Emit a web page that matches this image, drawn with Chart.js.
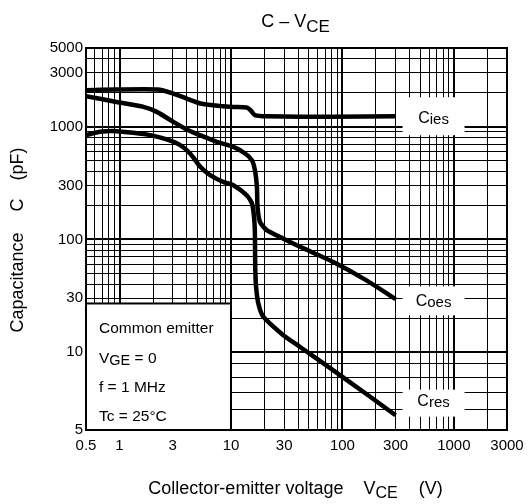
<!DOCTYPE html>
<html lang="en">
<head>
  <meta charset="UTF-8">
  <title>C - VCE</title>
  <script src="https://cdn.jsdelivr.net/npm/chart.js"></script>
  <style>
    html, body {
      margin: 0;
      padding: 0;
      background: #fff;
    }
    #wrap { width: 531px; height: 504px; }
  </style>
</head>
<body>
  <div id="wrap"><canvas id="capChart" width="531" height="504"></canvas></div>

  <script>
    // Curves: V_CE in volts, capacitance in pF
    const ciesV = [0.5, 0.94, 2.2, 3.0, 4.0, 5.3, 6.9, 10.5, 13.8, 15.0, 16.4, 21, 83, 300];
    const ciesC = [2110, 2140, 2140, 1980, 1780, 1610, 1555, 1500, 1480, 1400, 1270, 1240, 1225, 1240];

    const coesV = [0.5, 0.94, 1.64, 2.16, 3.04, 4.0, 5.27, 7.45, 10.5, 13.4, 15.4, 16.4, 17.1, 17.3, 18.2, 20.9, 29.3, 41.7, 82.8, 163, 300];
    const coesC = [1870, 1660, 1500, 1355, 1105, 946, 842, 735, 663, 579, 505, 412, 293, 195, 143, 121, 102, 86, 63, 43.5, 29.5];

    const cresV = [0.5, 0.67, 0.94, 1.33, 1.88, 2.65, 3.5, 4.3, 5.3, 6.5, 8.5, 10.5, 13.8, 15.4, 16.1, 16.4, 16.5, 16.8, 17.6, 19.5, 29.3, 41.7, 83, 163, 300];
    const cresC = [842, 901, 914, 883, 842, 771, 687, 579, 441, 372, 324, 303, 247, 209, 159, 113, 57, 38, 27, 20.6, 14.2, 11.1, 8.5, 6.9, 5.7];

    const xTickLabels = [0.5, 1, 3, 10, 30, 100, 300, 1000, 3000];
    const yTickLabels = [5, 10, 30, 100, 300, 1000, 3000, 5000];

    const FONT = '"Liberation Sans", Arial, Helvetica, sans-serif';

    // the sheet's y axis is log, but the 5..10 decade is drawn stretched
    const Y_BREAK = 10, Y_BREAK_FRAC = 0.204;

    class StretchLogScale extends Chart.LogarithmicScale {
      fraction(v) {
        const lo = Math.log10(this.min), hi = Math.log10(this.max), b = Math.log10(Y_BREAK);
        const l = Math.log10(v);
        if (l <= b) return Y_BREAK_FRAC * (l - lo) / (b - lo);
        return Y_BREAK_FRAC + (1 - Y_BREAK_FRAC) * (l - b) / (hi - b);
      }
      getPixelForValue(v) {
        if (v === undefined || v === null || v <= 0) v = this.min;
        return this.getPixelForDecimal(this.fraction(v));
      }
      getValueForPixel(p) {
        const d = this.getDecimalForPixel(p);
        const lo = Math.log10(this.min), hi = Math.log10(this.max), b = Math.log10(Y_BREAK);
        const l = d <= Y_BREAK_FRAC
          ? lo + d / Y_BREAK_FRAC * (b - lo)
          : b + (d - Y_BREAK_FRAC) / (1 - Y_BREAK_FRAC) * (hi - b);
        return Math.pow(10, l);
      }
    }
    StretchLogScale.id = 'stretchLog';
    StretchLogScale.defaults = Chart.LogarithmicScale.defaults;
    Chart.register(StretchLogScale);

    // 1..9 x 10^n grid lines between lo and hi
    function gridValues(lo, hi) {
      const out = [];
      for (let e = -1; e <= 4; e++) {
        for (let m = 1; m <= 9; m++) {
          const v = +(m * Math.pow(10, e)).toPrecision(3);
          if (v >= lo && v <= hi) out.push(v);
        }
      }
      return out;
    }
    const isDecade = v => Math.abs(Math.log10(v) - Math.round(Math.log10(v))) < 1e-6;

    function series(xs, ys) {
      return {
        data: xs.map((v, i) => ({ x: v, y: ys[i] })),
        borderColor: '#000',
        borderWidth: 4.5,
        pointRadius: 0,
        fill: false,
        tension: 0.2
      };
    }

    // draw text pieces one after the other: [text, size, dy] or a number = gap
    function drawRuns(ctx, runs, x, y, align) {
      let total = 0;
      runs.forEach(r => {
        if (typeof r === 'number') { total += r; return; }
        ctx.font = r[1] + 'px ' + FONT;
        total += ctx.measureText(r[0]).width;
      });
      let cx = align === 'center' ? x - total / 2 : x;
      runs.forEach(r => {
        if (typeof r === 'number') { cx += r; return; }
        ctx.font = r[1] + 'px ' + FONT;
        ctx.fillText(r[0], cx, y + (r[2] || 0));
        cx += ctx.measureText(r[0]).width;
      });
    }

    const curveTags = [
      { sub: 'ies', at: 1240, h: 38, base: 7 },
      { sub: 'oes', at: 28.5, h: 29, base: 5 },
      { sub: 'res', at: 6.35, h: 27, base: 3 }
    ];

    const sheetPlugin = {
      id: 'sheet',
      beforeDatasetsDraw(chart) {
        const { ctx, chartArea: a, scales: { x, y } } = chart;
        ctx.save();
        ctx.fillStyle = '#fff';
        ctx.strokeStyle = '#000';
        ctx.lineWidth = 2;
        ctx.strokeRect(a.left, a.top, a.right - a.left, a.bottom - a.top);

        // measurement conditions box
        const bx = x.getPixelForValue(10), by = y.getPixelForValue(27);
        ctx.fillRect(a.left, by, bx - a.left, a.bottom - by);
        ctx.strokeRect(a.left, by, bx - a.left, a.bottom - by);

        // white patches behind the curve names
        const lx = x.getPixelForValue(300) + 7;
        curveTags.forEach(t => {
          const cy = y.getPixelForValue(t.at);
          ctx.fillRect(lx, cy - t.h / 2, 62, t.h);
        });
        ctx.restore();
      },
      afterDraw(chart) {
        const { ctx, chartArea: a, scales: { x, y } } = chart;
        ctx.save();
        ctx.fillStyle = '#000';
        ctx.textBaseline = 'alphabetic';
        const mid = (a.left + a.right) / 2;

        drawRuns(ctx, [['C \u2013 V', 18], ['CE', 17, 5]], mid - 1, 27, 'center');
        drawRuns(ctx, [['Collector-emitter voltage', 18], 20, ['V', 18], ['CE', 16, 4], 21, ['(V)', 18]], mid - 1, 494, 'center');

        ctx.save();
        ctx.translate(23, 240);
        ctx.rotate(-Math.PI / 2);
        drawRuns(ctx, [['Capacitance', 18], 21, ['C', 18], 18, ['(pF)', 18]], 0, 0, 'center');
        ctx.restore();

        const tx = a.left + 13;
        drawRuns(ctx, [['Common emitter', 15.5]], tx, 333, 'left');
        drawRuns(ctx, [['V', 15.5], ['GE', 14.5, 2], [' = 0', 15.5]], tx, 363, 'left');
        drawRuns(ctx, [['f = 1 MHz', 15.5]], tx, 392, 'left');
        drawRuns(ctx, [['Tc = 25\u00B0C', 15.5]], tx, 421, 'left');

        const lx = x.getPixelForValue(300) + 7 + 31;
        curveTags.forEach(t => {
          const cy = y.getPixelForValue(t.at);
          drawRuns(ctx, [['C', 16], [t.sub, 15, 1]], lx, cy + t.base, 'center');
        });
        ctx.restore();
      }
    };

    const gridLine = {
      color: '#000',
      drawTicks: false,
      lineWidth: c => (c.tick && isDecade(c.tick.value) ? 2 : 1)
    };
    const tickFont = { family: FONT, size: 15 };

    new Chart(document.getElementById('capChart'), {
      type: 'line',
      data: {
        datasets: [series(ciesV, ciesC), series(coesV, coesC), series(cresV, cresC)]
      },
      options: {
        responsive: false,
        animation: false,
        devicePixelRatio: 1,
        layout: { padding: { top: 48, right: 24, left: 0, bottom: 0 } },
        plugins: { legend: { display: false }, tooltip: { enabled: false } },
        scales: {
          x: {
            type: 'logarithmic',
            min: 0.5,
            max: 3000,
            afterBuildTicks: s => { s.ticks = gridValues(0.5, 3000).map(v => ({ value: v })); },
            afterFit: s => { s.height = 74; },
            grid: gridLine,
            border: { display: false },
            ticks: {
              autoSkip: false,
              maxRotation: 0,
              padding: 7,
              color: '#000',
              font: tickFont,
              callback: v => (xTickLabels.includes(v) ? String(v) : '')
            }
          },
          y: {
            type: 'stretchLog',
            min: 5,
            max: 5000,
            afterBuildTicks: s => { s.ticks = gridValues(5, 5000).map(v => ({ value: v })); },
            afterFit: s => { s.width = 86; },
            grid: gridLine,
            border: { display: false },
            ticks: {
              autoSkip: false,
              padding: 3,
              color: '#000',
              font: tickFont,
              callback: v => (yTickLabels.includes(v) ? String(v) : '')
            }
          }
        }
      },
      plugins: [sheetPlugin]
    });
  </script>
</body>
</html>
